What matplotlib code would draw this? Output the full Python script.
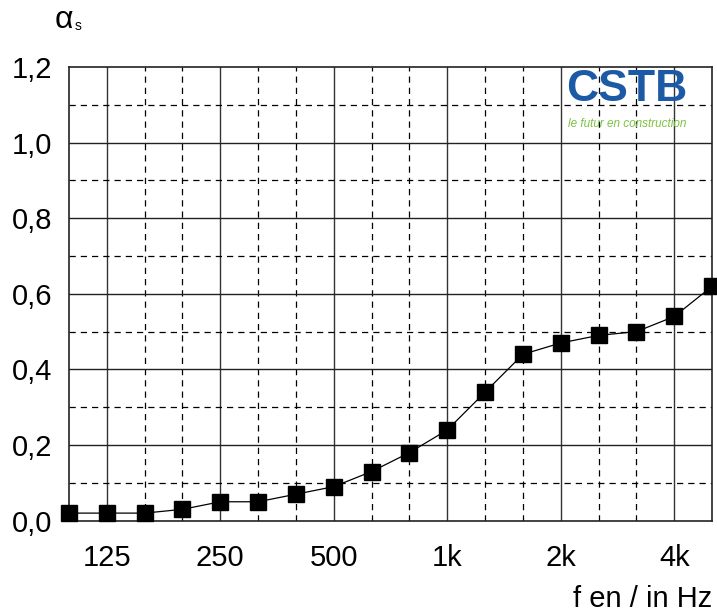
import matplotlib
matplotlib.use("Agg")
import matplotlib.pyplot as plt
import numpy as np

plt.rcParams['font.family'] = ['Liberation Sans', 'DejaVu Sans']

# third-octave band centre frequencies (Hz)
freqs = [100, 125, 160, 200, 250, 315, 400, 500, 630, 800,
         1000, 1250, 1600, 2000, 2500, 3150, 4000, 5000]
# sound absorption coefficient alpha_s
alpha_s = [0.02, 0.02, 0.02, 0.03, 0.05, 0.05, 0.07, 0.09, 0.13, 0.18,
           0.24, 0.34, 0.44, 0.47, 0.49, 0.50, 0.54, 0.62]

octave_labels = {125: "125", 250: "250", 500: "500", 1000: "1k", 2000: "2k", 4000: "4k"}
y_major = [0.0, 0.2, 0.4, 0.6, 0.8, 1.0, 1.2]
y_minor = [0.1, 0.3, 0.5, 0.7, 0.9, 1.1]

fig = plt.figure(figsize=(7.17, 6.14), dpi=100)
ax = fig.add_axes([0.0962, 0.152, 0.897, 0.739])

x = np.arange(len(freqs))

# grid: solid at octaves / major values, dashed elsewhere
for i, f in enumerate(freqs):
    if f in octave_labels:
        ax.axvline(i, color="#333333", lw=1.0, zorder=1)
    elif i not in (0, len(freqs) - 1):
        ax.axvline(i, color="black", lw=0.9, ls=(0, (5, 4)), zorder=1)
for v in y_major[1:-1]:
    ax.axhline(v, color="#222222", lw=1.0, zorder=1)
for v in y_minor:
    ax.axhline(v, color="black", lw=0.9, ls=(0, (5, 4)), zorder=1)

ax.plot(x, alpha_s, color="black", lw=0.9, marker="s", markersize=12,
        markerfacecolor="black", markeredgecolor="black", zorder=3, clip_on=False)

ax.set_xlim(0, len(freqs) - 1)
ax.set_ylim(0, 1.2)

tick_pos = [i for i, f in enumerate(freqs) if f in octave_labels]
ax.set_xticks(tick_pos)
ax.set_xticklabels([octave_labels[freqs[i]] for i in tick_pos], fontsize=21)
ax.set_yticks(y_major)
ax.set_yticklabels([f"{v:.1f}".replace(".", ",") for v in y_major], fontsize=21)
ax.tick_params(axis="x", length=0, pad=17)
ax.tick_params(axis="y", length=0, pad=12)

for s in ax.spines.values():
    s.set_linewidth(1.2)
    s.set_color("#222222")
    s.set_zorder(2)

# axis labels
fig.text(55 / 717, 1 - 28 / 614, "α", fontsize=23, ha="left", va="baseline")
fig.text(75 / 717, 1 - 30 / 614, "s", fontsize=10, ha="left", va="baseline")
fig.text(712 / 717, 1 - 607 / 614, "f en / in Hz", fontsize=21, ha="right", va="baseline")

# CSTB logo as text
ax.text(0.868, 0.995, "CSTB", transform=ax.transAxes, fontsize=32, fontweight="bold",
        color="#1d5aa6", ha="center", va="top", zorder=4)
ax.text(0.868, 0.875, "le futur en construction", transform=ax.transAxes, fontsize=8.5,
        style="italic", color="#7dc242", ha="center", va="center", zorder=4)

fig.savefig("out.png", dpi=100)
